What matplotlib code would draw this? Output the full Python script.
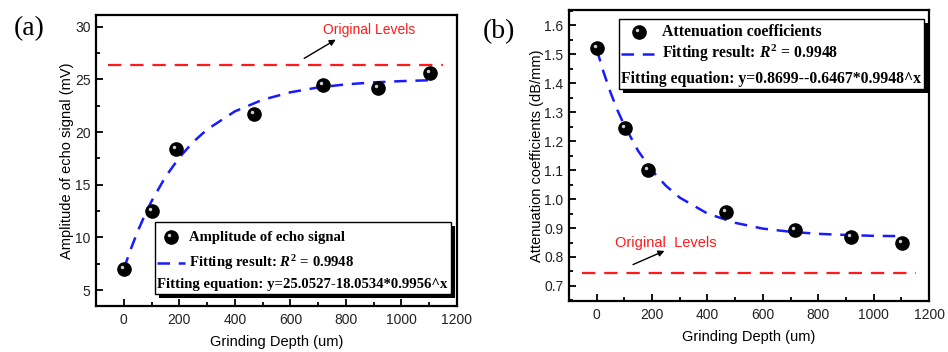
import matplotlib.pyplot as plt
from matplotlib.lines import Line2D
from matplotlib.patches import Rectangle
from matplotlib.ticker import MultipleLocator
from matplotlib import transforms

plt.rcParams['font.family'] = ['Liberation Sans', 'DejaVu Sans']
plt.rcParams['mathtext.fontset'] = 'custom'
plt.rcParams['mathtext.rm'] = 'Liberation Serif:bold'
plt.rcParams['mathtext.it'] = 'Liberation Serif:italic:bold'
plt.rcParams['mathtext.bf'] = 'Liberation Serif:bold'

W, H = 948, 352

# (a) amplitude of echo signal
depth_a = [0, 101, 187, 470, 717, 917, 1101]
amp_a = [7.0, 12.55, 18.4, 21.75, 24.45, 24.15, 25.6]
fit_depth_a = [0, 25, 50, 75, 100, 150, 200, 250, 300, 400, 500, 600, 700, 800, 900, 1000, 1100]
fit_amp_a = [7.00, 8.88, 10.57, 12.08, 13.44, 15.74, 17.58, 19.06, 20.24,
             21.96, 23.06, 23.77, 24.23, 24.52, 24.71, 24.83, 24.91]
orig_a = 26.4
orig_span_a = [-55, 1150]

# (b) attenuation coefficients
depth_b = [0, 102, 187, 467, 717, 918, 1102]
att_b = [1.522, 1.244, 1.100, 0.957, 0.894, 0.869, 0.847]
fit_depth_b = fit_depth_a
fit_att_b = [1.517, 1.438, 1.368, 1.307, 1.254, 1.166, 1.098, 1.046, 1.005,
             0.950, 0.918, 0.898, 0.887, 0.880, 0.876, 0.873, 0.872]
orig_b = 0.746
orig_span_b = [-52, 1154]

fig = plt.figure(figsize=(W / 100, H / 100), dpi=100)


def fx(px):
    return px / W


def fy(py):
    return 1 - py / H


def panel(left, top, right, bottom, x, y, fit_x, fit_y, orig, span, ylim, ymaj, ymin, ylabel, ypad):
    ax = fig.add_axes([fx(left), fy(bottom), (right - left) / W, (bottom - top) / H])
    ax.set_xlim(-100, 1200)
    ax.set_ylim(*ylim)
    ax.xaxis.set_major_locator(MultipleLocator(200))
    ax.xaxis.set_minor_locator(MultipleLocator(100))
    ax.yaxis.set_major_locator(MultipleLocator(ymaj))
    ax.yaxis.set_minor_locator(MultipleLocator(ymin))
    for s in ax.spines.values():
        s.set_linewidth(1.6)
    ax.tick_params(which='both', direction='in', top=False, right=False, width=1.3,
                   labelsize=10, labelcolor='#222222')
    ax.tick_params(which='major', length=5, pad=5)
    ax.tick_params(axis='y', which='major', pad=4)
    ax.tick_params(which='minor', length=3)
    ax.set_xlabel('Grinding Depth (um)', fontsize=10.5, labelpad=6)
    ax.set_ylabel(ylabel, fontsize=10.5, labelpad=ypad)

    ax.plot(span, [orig, orig], color='#ff1a1a', lw=1.6, dashes=(6, 4))
    ax.plot(fit_x, fit_y, color='#1a1aff', lw=1.8, dashes=(5, 3.5), zorder=3)
    ax.plot(x, y, 'o', color='black', ms=9.5, zorder=4)
    glint = transforms.offset_copy(ax.transData, fig=fig, x=-2, y=2, units='dots')
    ax.plot(x, y, 'o', color='#d0d0d0', ms=2.5, mec='none', transform=glint, zorder=5)
    return ax


def legend_box(x0, y0, x1, y1, rows, marker_x, line_x, text_x, eq_x, fs):
    fig.add_artist(Rectangle((fx(x0 + 4), fy(y1 + 4)), (x1 - x0) / W, (y1 - y0) / H,
                             transform=fig.transFigure, facecolor='black', edgecolor='none'))
    fig.add_artist(Rectangle((fx(x0), fy(y1)), (x1 - x0) / W, (y1 - y0) / H,
                             transform=fig.transFigure, facecolor='white', edgecolor='black', lw=1))
    (r1, t1), (r2, t2), (r3, t3) = rows
    fig.add_artist(Line2D([fx(marker_x)], [fy(r1)], marker='o', color='black', ms=9.5,
                          transform=fig.transFigure))
    fig.add_artist(Line2D([fx(marker_x - 2)], [fy(r1 - 2)], marker='o', color='#d0d0d0', ms=2.5,
                          mec='none', transform=fig.transFigure))
    fig.text(fx(text_x), fy(r1), t1, fontsize=fs, family='Liberation Serif', weight='bold', va='center')
    fig.add_artist(Line2D([fx(line_x[0]), fx(line_x[1])], [fy(r2), fy(r2)], color='#1a1aff', lw=1.8,
                          dashes=(5, 3.5), transform=fig.transFigure))
    fig.text(fx(text_x), fy(r2), t2, fontsize=fs, family='Liberation Serif', weight='bold', va='center')
    fig.text(fx(eq_x), fy(r3), t3, fontsize=fs, family='Liberation Serif', weight='bold', va='center')


ax1 = panel(96, 15, 457, 306, depth_a, amp_a, fit_depth_a, fit_amp_a, orig_a, orig_span_a,
            (3.5, 31.1), 5, 2.5, 'Amplitude of echo signal (mV)', 0.5)
ax1.annotate('', xy=(772, 28.9), xytext=(641, 26.85),
             arrowprops=dict(arrowstyle='-|>', color='black', lw=1, mutation_scale=9))
ax1.text(884, 29.7, 'Original Levels', color='#ff1a1a', fontsize=10, ha='center', va='center')
legend_box(155, 222, 451, 294,
           [(237, 'Amplitude of echo signal'),
            (263, r'Fitting result: $\mathit{R}^{2}$ = 0.9948'),
            (284.5, 'Fitting equation: y=25.0527-18.0534*0.9956^x')],
           171, (157, 185), 189, 157, 10.6)
fig.text(fx(14), fy(29), '(a)', fontsize=20, family='Liberation Serif', va='center')

ax2 = panel(569, 10, 929, 301, depth_b, att_b, fit_depth_b, fit_att_b, orig_b, orig_span_b,
            (0.648, 1.653), 0.1, 0.05, 'Attenuation coefficients (dB/mm)', 0.5)
ax2.annotate('', xy=(254, 0.825), xytext=(122, 0.77),
             arrowprops=dict(arrowstyle='-|>', color='black', lw=1, mutation_scale=9))
ax2.text(250, 0.85, 'Original  Levels', color='#ff1a1a', fontsize=10.5, ha='center', va='center')
legend_box(619, 19, 924, 89,
           [(31.5, 'Attenuation coefficients'),
            (53.5, r'Fitting result: $\mathit{R}^{2}$ = 0.9948'),
            (79, 'Fitting equation: y=0.8699--0.6467*0.9948^x')],
           639, (621, 654), 662, 621, 11.3)
fig.text(fx(483), fy(32), '(b)', fontsize=20, family='Liberation Serif', va='center')

fig.savefig('out.png', dpi=100)
